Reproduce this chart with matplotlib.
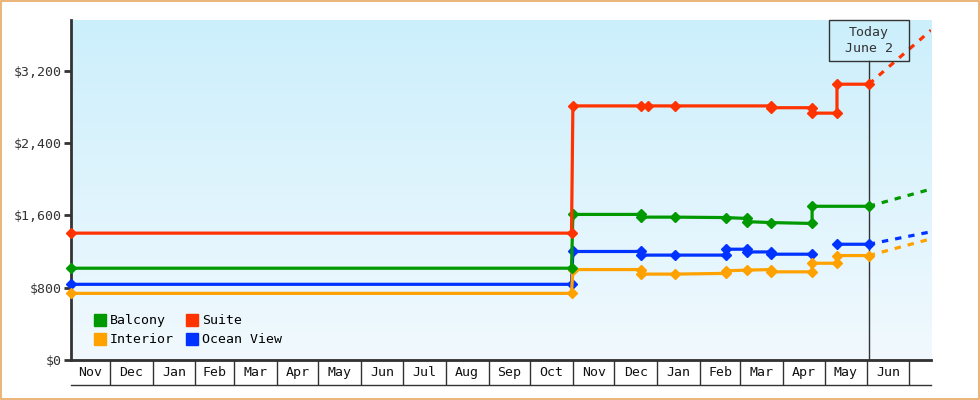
import numpy as np
import pandas as pd
import matplotlib
matplotlib.use("Agg")
import matplotlib.pyplot as plt
import matplotlib.dates as mdates
import matplotlib.transforms as mtransforms
from matplotlib.colors import LinearSegmentedColormap
from matplotlib.patches import Rectangle
from matplotlib.lines import Line2D

# price history per cabin type (date, price); same date twice = price change
suite_dates = ["2022-11-03", "2023-10-31", "2023-11-01", "2023-12-20", "2023-12-25", "2024-01-14",
               "2024-03-23", "2024-03-23", "2024-04-22", "2024-04-22", "2024-05-10", "2024-05-10", "2024-06-02"]
suite_prices = [1403, 1403, 2810, 2810, 2810, 2810, 2810, 2790, 2790, 2730, 2730, 3050, 3050]

balcony_dates = ["2022-11-03", "2023-10-31", "2023-11-01", "2023-12-20", "2023-12-20", "2024-01-14",
                 "2024-02-20", "2024-03-06", "2024-03-06", "2024-03-23", "2024-04-22", "2024-04-22", "2024-06-02"]
balcony_prices = [1015, 1015, 1610, 1610, 1580, 1580, 1575, 1565, 1530, 1520, 1510, 1700, 1700]

ocean_dates = ["2022-11-03", "2023-10-31", "2023-11-01", "2023-12-20", "2023-12-20", "2024-01-14",
               "2024-02-20", "2024-02-20", "2024-03-06", "2024-03-06", "2024-03-23", "2024-03-23",
               "2024-04-22", "2024-05-01", "2024-05-10", "2024-06-02"]
ocean_prices = [837, 837, 1200, 1200, 1160, 1160, 1160, 1225, 1225, 1195, 1195, 1170, 1170, None, 1280, 1280]

interior_dates = ["2022-11-03", "2023-10-31", "2023-11-01", "2023-12-20", "2023-12-20", "2024-01-14",
                  "2024-02-20", "2024-02-20", "2024-03-06", "2024-03-23", "2024-03-23", "2024-04-22",
                  "2024-04-22", "2024-05-10", "2024-05-10", "2024-06-02"]
interior_prices = [737, 737, 1000, 1000, 950, 950, 958, 987, 994, 1000, 975, 975, 1070, 1070, 1155, 1155]

# projected prices at the right edge
proj_date = "2024-07-17"
proj_prices = {"Suite": 3647, "Balcony": 1890, "Ocean View": 1418, "Interior": 1340}

today = "2024-06-02"
today_label = "Today\nJune 2"
yticks = [0, 800, 1600, 2400, 3200]
x_start, x_end = "2022-11-03", "2024-07-17"

colors = {"Balcony": "#009900", "Suite": "#FF3300", "Interior": "#FFA200", "Ocean View": "#0033FF"}
series = {
    "Balcony": (balcony_dates, balcony_prices),
    "Interior": (interior_dates, interior_prices),
    "Suite": (suite_dates, suite_prices),
    "Ocean View": (ocean_dates, ocean_prices),
}

font = "DejaVu Sans Mono"
plt.rcParams["font.family"] = font
plt.rcParams["font.size"] = 9.5
dark = "#333333"

fig = plt.figure(figsize=(9.8, 4), dpi=100)
ax = fig.add_axes([71 / 980, 40 / 400, 860 / 980, 340 / 400])
mx = fig.add_axes([71 / 980, 15 / 400, 860 / 980, 25 / 400], sharex=ax)

# background gradient
grad = LinearSegmentedColormap.from_list("bg", ["#CCEFFC", "#F1F9FE"])
ax.imshow(np.linspace(0, 1, 256).reshape(-1, 1), cmap=grad, extent=[0, 1, 0, 1],
          transform=ax.transAxes, aspect="auto", zorder=0)

t_today = mdates.date2num(pd.Timestamp(today))
t_proj = mdates.date2num(pd.Timestamp(proj_date))

for name in ["Ocean View", "Interior", "Balcony", "Suite"]:
    d, p = series[name]
    x = mdates.date2num(pd.to_datetime(d))
    y = np.array([np.nan if v is None else v for v in p], dtype=float)
    ax.plot(x, y, color=colors[name], lw=2.3, marker="D", ms=4.6, zorder=3, clip_on=False)
    ax.plot([t_today, t_proj], [y[-1], proj_prices[name]], color=colors[name], lw=2.3,
            linestyle=(0, (2.0, 2.2)), zorder=3)

# today marker
trans = mtransforms.blended_transform_factory(ax.transData, ax.transAxes)
box_h = 41 / 340
box_w = 80 / (860 / (mdates.date2num(pd.Timestamp(x_end)) - mdates.date2num(pd.Timestamp(x_start))))
ax.plot([t_today, t_today], [0, 1 - box_h], color=dark, lw=1, transform=trans, zorder=2)
ax.add_patch(Rectangle((t_today - box_w / 2, 1 - box_h), box_w, box_h, transform=trans,
                       fill=False, ec=dark, lw=1, zorder=4, clip_on=False))
ax.text(t_today, 1 - box_h / 2, today_label, transform=trans, ha="center", va="center",
        color=dark, linespacing=1.35, zorder=5)

ax.set_xlim(mdates.date2num(pd.Timestamp(x_start)), mdates.date2num(pd.Timestamp(x_end)))
ax.set_ylim(0, 3760)
ax.set_yticks(yticks)
ax.set_yticklabels(["${:,}".format(v) for v in yticks])
ax.tick_params(axis="y", length=5, width=2, color=dark, labelcolor=dark, pad=2)
ax.tick_params(axis="x", bottom=False, labelbottom=False)
for s in ["top", "right"]:
    ax.spines[s].set_visible(False)
for s in ["left", "bottom"]:
    ax.spines[s].set_color(dark)
    ax.spines[s].set_linewidth(2)

handles = [Line2D([], [], ls="none", marker="s", ms=8, color=colors[n]) for n in series]
ax.legend(handles, list(series), ncol=2, loc="lower left", bbox_to_anchor=(0.021, 0.025),
          frameon=False, handlelength=0.8, handletextpad=0.35, columnspacing=1.0,
          labelspacing=0.45, borderaxespad=0, prop={"family": font, "size": 9.5})

# month boxes under the axis
lo, hi = ax.get_xlim()
starts = mdates.date2num(pd.date_range("2022-12-01", "2024-07-01", freq="MS"))
edges = np.concatenate([[lo], starts, [hi]])
for e in edges[1:-1]:
    mx.axvline(e, color=dark, lw=1)
for a, b in zip(edges[:-1], edges[1:]):
    if b - a >= 20:
        mx.text((a + b) / 2, 0.5, mdates.num2date(a).strftime("%b"), ha="center", va="center",
                color="#111111")
mx.set_ylim(0, 1)
mx.set_yticks([])
mx.tick_params(axis="x", bottom=False, labelbottom=False)
for s in ["left", "right"]:
    mx.spines[s].set_visible(False)
for s in ["top", "bottom"]:
    mx.spines[s].set_color(dark)
    mx.spines[s].set_linewidth(1)
mx.set_facecolor("none")

fig.patches.append(Rectangle((0.0008, 0.0015), 0.9984, 0.997, transform=fig.transFigure,
                             fill=False, ec="#E8A862", lw=1.2))

fig.savefig("out.png", dpi=100)
